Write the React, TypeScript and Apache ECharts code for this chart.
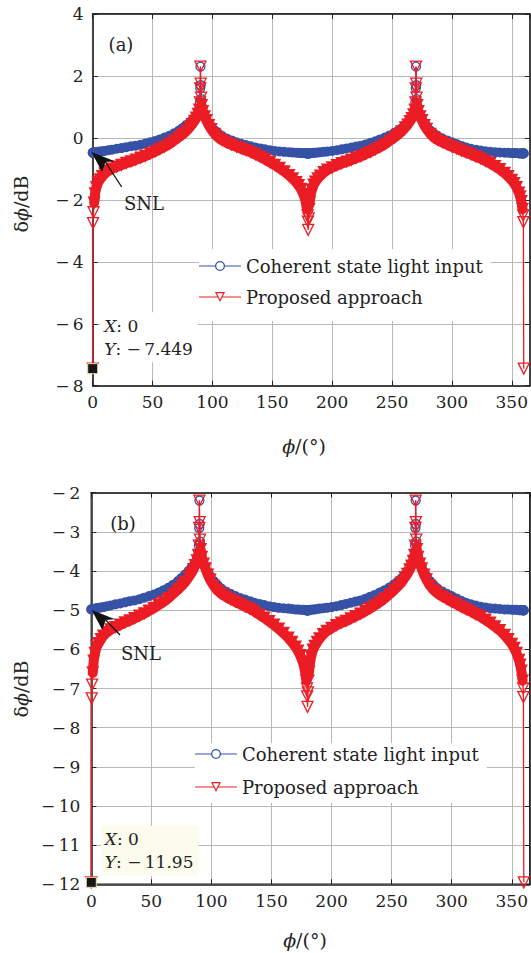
import { useEffect, useRef } from 'react';
import * as echarts from 'echarts';

// phase angle samples (degrees), shared by all series
const PHI = [
  0, 0.3, 0.7, 1.2, 2, 3, 4.5, 6, 8, 10, 13, 16, 20, 24, 28, 32, 36, 40, 44, 48, 52, 56, 60, 64, 68, 72, 75, 78, 81, 83, 85, 86.5, 88, 89, 89.5, 89.8,
  90,
  90.2, 90.5, 91, 92, 93.5, 95, 97, 99, 102, 105, 108, 112, 116, 120, 124, 128, 132, 136, 140, 144, 148, 152, 156, 160, 164, 167, 170, 172, 174, 176, 177, 178, 179, 179.5, 179.7,
  180,
  180.3, 180.7, 181.2, 182, 183, 184.5, 186, 188, 190, 193, 196, 200, 204, 208, 212, 216, 220, 224, 228, 232, 236, 240, 244, 248, 252, 255, 258, 261, 263, 265, 266.5, 268, 269, 269.5, 269.8,
  270,
  270.2, 270.5, 271, 272, 273.5, 275, 277, 279, 282, 285, 288, 292, 296, 300, 304, 308, 312, 316, 320, 324, 328, 332, 336, 340, 344, 347, 350, 352, 354, 356, 357, 358, 359, 359.5, 359.7,
  360,
];

// panel (a)
const BLUE_A = [
  -0.48, -0.48, -0.48, -0.47, -0.47, -0.46, -0.45, -0.44, -0.43, -0.42, -0.4, -0.38, -0.35, -0.33, -0.3, -0.27, -0.25, -0.22, -0.18, -0.14, -0.1, -0.05, 0.01, 0.07, 0.15, 0.24, 0.32, 0.41, 0.5, 0.57, 0.64, 0.7, 0.79, 0.92, 1.15, 1.6,
  2.3,
  1.7, 1.25, 1.0, 0.84, 0.7, 0.6, 0.47, 0.37, 0.24, 0.14, 0.06, -0.02, -0.08, -0.14, -0.19, -0.23, -0.27, -0.31, -0.34, -0.37, -0.4, -0.42, -0.44, -0.45, -0.46, -0.47, -0.48, -0.48, -0.49, -0.49, -0.49, -0.5, -0.5, -0.5, -0.5,
  -0.5,
  -0.5, -0.5, -0.5, -0.49, -0.49, -0.48, -0.48, -0.47, -0.46, -0.45, -0.44, -0.42, -0.4, -0.37, -0.34, -0.31, -0.28, -0.25, -0.21, -0.16, -0.11, -0.05, 0.01, 0.08, 0.16, 0.23, 0.31, 0.41, 0.5, 0.6, 0.67, 0.77, 0.9, 1.15, 1.6,
  2.3,
  1.7, 1.25, 1.0, 0.84, 0.7, 0.6, 0.47, 0.37, 0.24, 0.14, 0.06, -0.02, -0.08, -0.14, -0.2, -0.26, -0.31, -0.35, -0.38, -0.41, -0.43, -0.45, -0.46, -0.47, -0.48, -0.48, -0.49, -0.49, -0.49, -0.5, -0.5, -0.5, -0.5, -0.5, -0.5,
  -0.5,
];
const RED_A = [
  -7.449, -2.75, -2.4, -2.1, -1.8, -1.6, -1.44, -1.35, -1.25, -1.16, -1.07, -1.0, -0.94, -0.88, -0.82, -0.77, -0.71, -0.65, -0.59, -0.52, -0.45, -0.37, -0.29, -0.2, -0.09, 0.02, 0.11, 0.21, 0.34, 0.43, 0.54, 0.64, 0.76, 0.9, 1.15, 1.6,
  2.3,
  1.75, 1.3, 1.05, 0.85, 0.68, 0.56, 0.4, 0.27, 0.12, 0.0, -0.08, -0.16, -0.23, -0.29, -0.35, -0.41, -0.47, -0.54, -0.62, -0.7, -0.79, -0.88, -0.98, -1.09, -1.21, -1.32, -1.44, -1.54, -1.66, -1.82, -1.93, -2.08, -2.3, -2.5, -2.7,
  -2.97,
  -2.6, -2.3, -2.08, -1.85, -1.68, -1.52, -1.42, -1.32, -1.23, -1.12, -1.04, -0.96, -0.89, -0.83, -0.78, -0.72, -0.66, -0.6, -0.53, -0.46, -0.38, -0.3, -0.21, -0.1, 0.01, 0.1, 0.2, 0.33, 0.42, 0.53, 0.63, 0.75, 0.9, 1.15, 1.6,
  2.3,
  1.75, 1.3, 1.05, 0.85, 0.68, 0.56, 0.4, 0.28, 0.12, 0.01, -0.07, -0.15, -0.22, -0.29, -0.35, -0.42, -0.48, -0.54, -0.61, -0.67, -0.75, -0.83, -0.92, -1.02, -1.14, -1.25, -1.37, -1.47, -1.6, -1.78, -1.9, -2.05, -2.3, -2.5, -2.72,
  -7.449,
];

// panel (b)
const BLUE_B = [
  -4.98, -4.98, -4.98, -4.97, -4.97, -4.96, -4.95, -4.94, -4.93, -4.92, -4.9, -4.88, -4.85, -4.83, -4.8, -4.77, -4.75, -4.72, -4.68, -4.64, -4.6, -4.55, -4.49, -4.43, -4.35, -4.26, -4.18, -4.09, -4.0, -3.93, -3.86, -3.8, -3.71, -3.58, -3.35, -2.9,
  -2.2,
  -2.8, -3.25, -3.5, -3.66, -3.8, -3.9, -4.03, -4.13, -4.26, -4.36, -4.44, -4.52, -4.58, -4.64, -4.69, -4.73, -4.77, -4.81, -4.84, -4.87, -4.9, -4.92, -4.94, -4.95, -4.96, -4.97, -4.98, -4.98, -4.99, -4.99, -4.99, -5.0, -5.0, -5.0, -5.0,
  -5.0,
  -5.0, -5.0, -5.0, -4.99, -4.99, -4.98, -4.98, -4.97, -4.96, -4.95, -4.94, -4.92, -4.9, -4.87, -4.84, -4.81, -4.78, -4.75, -4.71, -4.66, -4.61, -4.55, -4.49, -4.42, -4.34, -4.27, -4.19, -4.09, -4.0, -3.9, -3.83, -3.73, -3.6, -3.35, -2.9,
  -2.2,
  -2.8, -3.25, -3.5, -3.66, -3.8, -3.9, -4.03, -4.13, -4.26, -4.36, -4.44, -4.52, -4.58, -4.64, -4.7, -4.76, -4.81, -4.85, -4.88, -4.91, -4.93, -4.95, -4.96, -4.97, -4.98, -4.98, -4.99, -4.99, -4.99, -5.0, -5.0, -5.0, -5.0, -5.0, -5.0,
  -5.0,
];
const RED_B = [
  -11.95, -7.25, -6.9, -6.6, -6.3, -6.1, -5.94, -5.85, -5.75, -5.66, -5.57, -5.5, -5.44, -5.38, -5.32, -5.27, -5.21, -5.15, -5.09, -5.02, -4.95, -4.87, -4.79, -4.7, -4.59, -4.48, -4.39, -4.29, -4.16, -4.07, -3.96, -3.86, -3.74, -3.6, -3.35, -2.9,
  -2.2,
  -2.75, -3.2, -3.45, -3.65, -3.82, -3.94, -4.1, -4.23, -4.38, -4.5, -4.58, -4.66, -4.73, -4.79, -4.85, -4.91, -4.97, -5.04, -5.12, -5.2, -5.29, -5.38, -5.48, -5.59, -5.71, -5.82, -5.94, -6.04, -6.16, -6.32, -6.43, -6.58, -6.8, -7.0, -7.2,
  -7.47,
  -7.1, -6.8, -6.58, -6.35, -6.18, -6.02, -5.92, -5.82, -5.73, -5.62, -5.54, -5.46, -5.39, -5.33, -5.28, -5.22, -5.16, -5.1, -5.03, -4.96, -4.88, -4.8, -4.71, -4.6, -4.49, -4.4, -4.3, -4.17, -4.08, -3.97, -3.87, -3.75, -3.6, -3.35, -2.9,
  -2.2,
  -2.75, -3.2, -3.45, -3.65, -3.82, -3.94, -4.1, -4.22, -4.38, -4.49, -4.57, -4.65, -4.72, -4.79, -4.85, -4.92, -4.98, -5.04, -5.11, -5.17, -5.25, -5.33, -5.42, -5.52, -5.64, -5.75, -5.87, -5.97, -6.1, -6.28, -6.4, -6.55, -6.8, -7.0, -7.22,
  -11.95,
];

const SERIES_NAMES = ['Coherent state light input', 'Proposed approach'];
const X_RANGE = [0, 365];
const X_STEP = 50;
const Y_A = [-8, 4, 2];
const Y_B = [-12, -2, 1];
const TIP_A = [0, -7.449];
const TIP_B = [0, -11.95];

const FONT = '"DejaVu Serif", serif';
const BLUE = '#3552a6';
const RED = '#ec1c24';
const AX = '#222222';
const GRIDC = '#b8b8b8';

// legend glyphs: line with a hollow marker (outer contour clockwise, hole anticlockwise)
const ICON_CIRCLE =
  'path://M0,4.4 L16.2,4.4 L16.2,5.6 L0,5.6 Z M25.8,4.4 L42,4.4 L42,5.6 L25.8,5.6 Z ' +
  'M16,5 A5,5 0 1 1 26,5 A5,5 0 1 1 16,5 Z M17.3,5 A3.7,3.7 0 1 0 24.7,5 A3.7,3.7 0 1 0 17.3,5 Z';
const ICON_TRI =
  'path://M0,4.4 L18.9,4.4 L18.9,5.6 L0,5.6 Z M23.1,4.4 L42,4.4 L42,5.6 L23.1,5.6 Z ' +
  'M16,0 L26,0 L21,10 Z M17.9,1.2 L21,7.4 L24.1,1.2 Z';

const fmtNum = (v: number) => (v < 0 ? '\u2212\u2009' + Math.abs(v) : String(v));
// samples within 1 degree of a multiple of 90 degrees sit on the singular spikes
const nearSingular = (p: number) => {
  const r = p % 90;
  return r < 1 || r > 89;
};

function panel(
  gi: number,
  blue: number[],
  red: number[],
  yr: number[],
  tip: number[],
  tipBg: string,
  tipPos: number[],
  labelMargin: number,
) {
  const xa = gi * 2;
  const ya = gi * 2;
  const xAxes = [
    {
      type: 'value', gridIndex: gi, position: 'bottom', min: X_RANGE[0], max: X_RANGE[1], interval: X_STEP,
      axisLine: { show: true, onZero: false, lineStyle: { color: AX, width: 1.5 } },
      axisTick: { show: true, inside: true, length: 5, lineStyle: { color: AX, width: 1 } },
      axisLabel: { show: true, showMaxLabel: false, margin: 8, fontFamily: FONT, fontSize: 17, color: AX },
      splitLine: { show: true, lineStyle: { color: GRIDC, width: 1 } },
    },
    {
      type: 'value', gridIndex: gi, position: 'top', min: X_RANGE[0], max: X_RANGE[1], interval: X_STEP,
      axisLine: { show: true, onZero: false, lineStyle: { color: AX, width: 1.5 } },
      axisTick: { show: true, inside: true, length: 5, lineStyle: { color: AX, width: 1 } },
      axisLabel: { show: false },
      splitLine: { show: false },
    },
  ];
  const yAxes = [
    {
      type: 'value', gridIndex: gi, position: 'left', min: yr[0], max: yr[1], interval: yr[2],
      axisLine: { show: true, onZero: false, lineStyle: { color: AX, width: 1.5 } },
      axisTick: { show: true, inside: true, length: 5, lineStyle: { color: AX, width: 1 } },
      axisLabel: { show: true, margin: labelMargin, fontFamily: FONT, fontSize: 17, color: AX, formatter: (v: number) => fmtNum(v) },
      splitLine: { show: true, lineStyle: { color: GRIDC, width: 1 } },
    },
    {
      type: 'value', gridIndex: gi, position: 'right', min: yr[0], max: yr[1], interval: yr[2],
      axisLine: { show: true, onZero: false, lineStyle: { color: AX, width: 1.5 } },
      axisTick: { show: true, inside: true, length: 5, lineStyle: { color: AX, width: 1 } },
      axisLabel: { show: false },
      splitLine: { show: false },
    },
  ];
  const bluePts = PHI.map((p, i) => [p, blue[i]]);
  const redPts = PHI.map((p, i) => [p, red[i]]);
  // the dense marker band: a thick stroke through the same points, spikes left out
  const core = (pts: number[][], color: string, w: number, z: number) => ({
    type: 'line', xAxisIndex: xa, yAxisIndex: ya,
    data: pts.filter((pt) => !nearSingular(pt[0])),
    symbol: 'none', showSymbol: false,
    lineStyle: { color, width: w, cap: 'round', join: 'round' },
    clip: false, z, silent: true, emphasis: { disabled: true }, tooltip: { show: false },
  });
  // spike samples drawn as open markers, band samples as filled ones
  const marks = (pts: number[][], color: string, spikeSize: number) =>
    pts.map((pt) =>
      nearSingular(pt[0])
        ? { value: pt, symbolSize: spikeSize, itemStyle: { color: 'rgba(255,255,255,0)', borderColor: color, borderWidth: 1.3 } }
        : { value: pt },
    );
  const series = [
    core(bluePts, BLUE, 7, 1),
    {
      name: SERIES_NAMES[0], type: 'line', xAxisIndex: xa, yAxisIndex: ya,
      data: marks(bluePts, BLUE, 9),
      symbol: 'circle', symbolSize: 10, showSymbol: true, showAllSymbol: true,
      itemStyle: { color: BLUE, borderColor: BLUE, borderWidth: 0 },
      lineStyle: { color: BLUE, width: 1 },
      clip: false, z: 2, silent: true, emphasis: { disabled: true },
    },
    core(redPts, RED, 10, 3),
    {
      name: SERIES_NAMES[1], type: 'line', xAxisIndex: xa, yAxisIndex: ya,
      data: marks(redPts, RED, 11),
      symbol: 'triangle', symbolRotate: 180, symbolSize: 13, showSymbol: true, showAllSymbol: true,
      itemStyle: { color: RED, borderColor: RED, borderWidth: 0 },
      lineStyle: { color: RED, width: 1.3 },
      clip: false, z: 4, silent: true, emphasis: { disabled: true },
      markPoint: {
        silent: true,
        symbol: 'rect', symbolSize: 10,
        itemStyle: { color: '#161616', borderColor: '#e6dab0', borderWidth: 1 },
        label: {
          show: true,
          position: tipPos,
          align: 'left',
          verticalAlign: 'top',
          fontFamily: FONT, fontSize: 17, color: AX, lineHeight: 23,
          backgroundColor: tipBg,
          padding: [2, 5, 2, 4],
          formatter: `{i|X}: ${fmtNum(tip[0])}\n{i|Y}: ${fmtNum(tip[1])}`,
          rich: { i: { fontFamily: FONT, fontSize: 17, fontStyle: 'italic', color: AX, lineHeight: 23 } },
        },
        data: [{ coord: tip }],
      },
    },
  ];
  return { xAxes, yAxes, series };
}

function legendFor(left: number, top: number, lineH: number, pad: number[]) {
  return {
    left, top, orient: 'vertical', itemWidth: 42, itemHeight: 10, itemGap: 11,
    padding: pad, backgroundColor: '#ffffff', selectedMode: false,
    textStyle: { fontFamily: FONT, fontSize: 18, color: AX, lineHeight: lineH },
    data: [
      { name: SERIES_NAMES[0], icon: ICON_CIRCLE, itemStyle: { color: BLUE, borderWidth: 0 } },
      { name: SERIES_NAMES[1], icon: ICON_TRI, itemStyle: { color: RED, borderWidth: 0 } },
    ],
  };
}

function textEl(x: number, y: number, text: string, size: number, rotation = 0) {
  return {
    type: 'text', x, y, rotation, z: 100, silent: true,
    style: {
      text, fill: AX, fontFamily: FONT, fontSize: size, align: 'center', verticalAlign: 'middle',
      rich: { i: { fontFamily: FONT, fontSize: size, fontStyle: 'italic', fill: AX, color: AX } },
    },
  };
}

function arrow(tip: number[], a: number[], notch: number[], b: number[], tail: number[]) {
  return [
    { type: 'line', z: 100, silent: true, shape: { x1: notch[0], y1: notch[1], x2: tail[0], y2: tail[1] }, style: { stroke: '#111', lineWidth: 1.3 } },
    { type: 'polygon', z: 100, silent: true, shape: { points: [tip, a, notch, b] }, style: { fill: '#111' } },
  ];
}

export default function App() {
  const ref = useRef<HTMLDivElement>(null);
  useEffect(() => {
    document.body.style.margin = '0';
    if (!ref.current) return;
    const chart = echarts.init(ref.current, undefined, { renderer: 'svg' });
    const pa = panel(0, BLUE_A, RED_A, Y_A, TIP_A, '#ffffff', [13, -51], 9);
    const pb = panel(1, BLUE_B, RED_B, Y_B, TIP_B, '#fbfbee', [15, -51], 11);
    chart.setOption({
      animation: false,
      backgroundColor: '#ffffff',
      grid: [
        { left: 92.7, top: 14, width: 440.2, height: 371.7, show: true, borderColor: AX, borderWidth: 1.5, backgroundColor: 'transparent' },
        { left: 91.3, top: 492.7, width: 440.1, height: 391.6, show: true, borderColor: AX, borderWidth: 1.5, backgroundColor: 'transparent' },
      ],
      xAxis: [...pa.xAxes, ...pb.xAxes],
      yAxis: [...pa.yAxes, ...pb.yAxes],
      series: [...pa.series, ...pb.series],
      legend: [
        legendFor(199, 249, 20, [7, 8, 14, 0]),
        legendFor(195, 743, 22, [0, 8, 5, 0]),
      ],
      graphic: [
        textEl(121, 44, '(a)', 18),
        textEl(123, 523, '(b)', 18),
        textEl(21, 204, 'δ{i|ϕ}/dB', 19, Math.PI / 2),
        textEl(21, 689, 'δ{i|ϕ}/dB', 19, Math.PI / 2),
        textEl(304, 446, '{i|ϕ}/(°)', 19),
        textEl(305, 940, '{i|ϕ}/(°)', 19),
        textEl(144, 203, 'SNL', 18),
        textEl(141, 653, 'SNL', 18),
        ...arrow([91.5, 152], [102, 172], [105.5, 162], [114.8, 161.3], [121.7, 187]),
        ...arrow([91.7, 610], [102.3, 630], [105.7, 620], [115, 619.3], [120, 635]),
      ],
    });
    return () => chart.dispose();
  }, []);
  return <div ref={ref} style={{ width: 531, height: 953 }} />;
}
